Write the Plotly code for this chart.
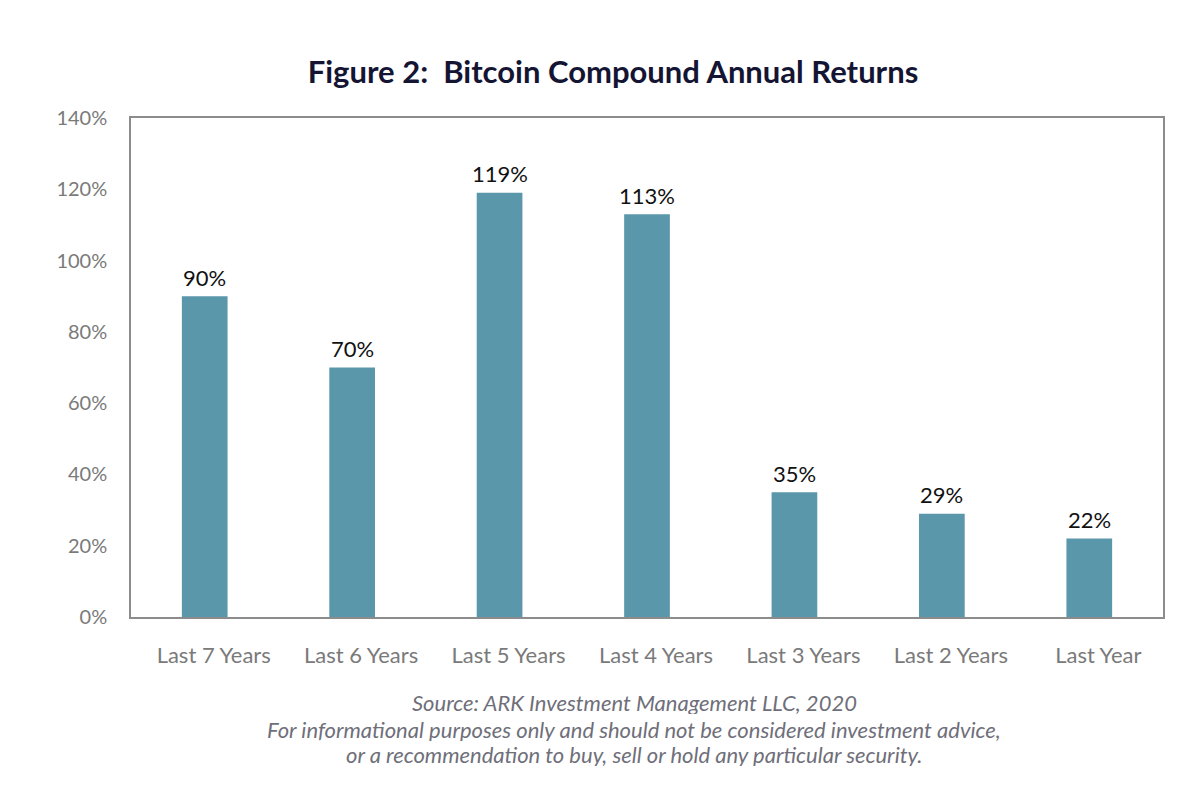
import plotly.graph_objects as go

categories = ["Last 7 Years", "Last 6 Years", "Last 5 Years", "Last 4 Years",
              "Last 3 Years", "Last 2 Years", "Last Year"]
returns_pct = [90, 70, 119, 113, 35, 29, 22]
y_ticks = [0, 20, 40, 60, 80, 100, 120, 140]
y_tick_labels = [f"{v}%" for v in y_ticks]
bar_labels = [f"{v}%" for v in returns_pct]

title_text = "<b>Figure 2:  Bitcoin Compound Annual Returns</b>"
footer_lines = [
    "Source: ARK Investment Management LLC, 2020",
    "For informational purposes only and should not be considered investment advice,",
    "or a recommendation to buy, sell or hold any particular security.",
]

fig = go.Figure(go.Bar(
    x=categories, y=returns_pct,
    marker=dict(color="#5B97AB", line=dict(width=0)),
    width=0.31,
    cliponaxis=False,
))

for cat, val, lab in zip(categories, returns_pct, bar_labels):
    fig.add_annotation(x=cat, y=val, text=lab, showarrow=False, yanchor="middle", yshift=19,
                       font=dict(family="Lato", size=22, color="#111111"))

fig.update_layout(
    width=1200, height=790,
    margin=dict(l=123, r=45, t=110, b=181),
    paper_bgcolor="white", plot_bgcolor="white",
    showlegend=False,
    font=dict(family="Lato", color="#777777"),
    title=dict(text=title_text, x=605 / 1200, xanchor="center", y=1 - 64 / 790, yanchor="middle",
               font=dict(family="Lato", size=31, color="#141433")),
    xaxis=dict(showgrid=False, showline=True, linecolor="#8c8c8c", linewidth=1.5, mirror=True,
               ticks="", tickfont=dict(size=22, color="#7a7a7a"), ticklabelstandoff=18,
               ticklabelshift=9),
    yaxis=dict(range=[0, 140], tickvals=y_ticks, ticktext=y_tick_labels, showgrid=False,
               zeroline=False, showline=True, linecolor="#8c8c8c", linewidth=1.5, mirror=True,
               ticks="", tickfont=dict(size=20, color="#7a7a7a"), ticklabelstandoff=18),
    bargap=0.69,
)

ys = [702, 729, 754]
plot_w = 1200 - 123 - 45
for line, yp in zip(footer_lines, ys):
    fig.add_annotation(text=f"<i>{line}</i>", x=(633 - 7 - 123) / plot_w, xref="paper",
                       xanchor="center", height=24,
                       y=(617 - yp) / 499, yref="paper", yanchor="middle", showarrow=False,
                       font=dict(family="Lato", size=22, color="#6f6f7a"))

fig.write_html("out.html")
